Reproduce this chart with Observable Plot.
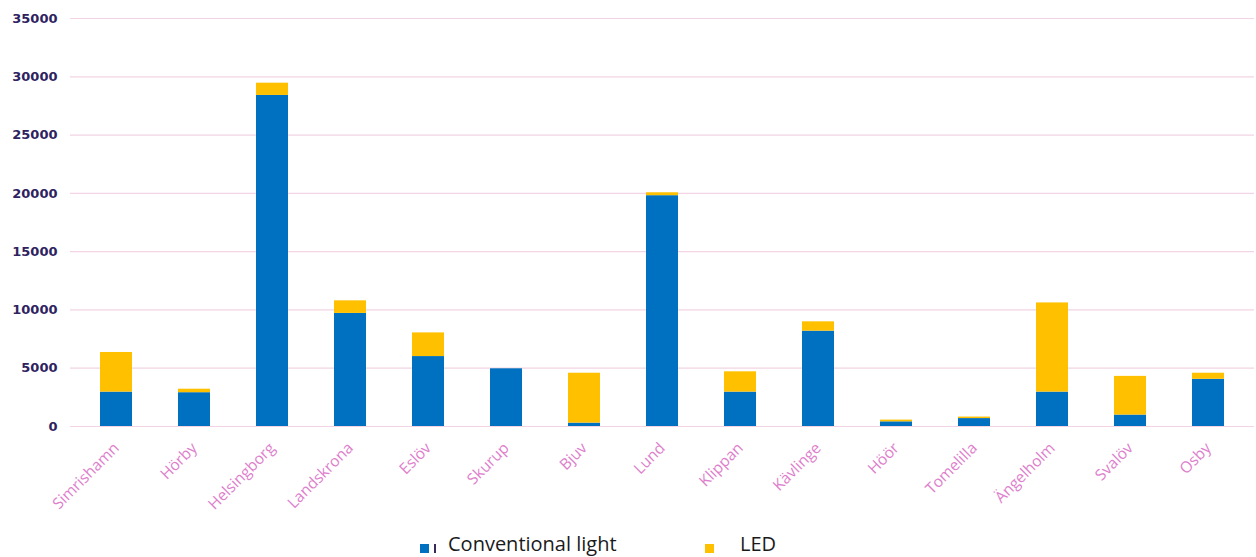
<!DOCTYPE html>
<html>
<head>
<meta charset="utf-8">
<script src="https://cdn.jsdelivr.net/npm/d3@7"></script>
<script src="https://cdn.jsdelivr.net/npm/@observablehq/plot@0.6"></script>
<style>
  html, body { margin: 0; padding: 0; background: #fff; }
  #wrap { position: relative; width: 1256px; height: 557px; overflow: hidden; }
  #legend { position: absolute; left: 0; top: 528px; width: 1256px; height: 29px; font-family: "Open Sans", "Noto Sans", sans-serif; }
  .sw { position: absolute; width: 9px; height: 9px; top: 16px; }
  .lt { position: absolute; top: 4px; font-size: 20px; color: #1a1a1a; line-height: 24px; }
</style>
</head>
<body>
<div id="wrap">
  <div id="chart"></div>
  <div id="legend">
    <div class="sw" style="left:420px; background:#0070c0;"></div>
    <div class="sw" style="left:434px; width:2px; background:#3a2a5a;"></div>
    <div class="lt" style="left:448px;">Conventional light</div>
    <div class="sw" style="left:705px; background:#ffc000;"></div>
    <div class="lt" style="left:740px;">LED</div>
  </div>
</div>
<script>
const municipalities = ["Simrishamn","Hörby","Helsingborg","Landskrona","Eslöv","Skurup","Bjuv","Lund","Klippan","Kävlinge","Höör","Tomelilla","Ängelholm","Svalöv","Osby"];
const conventional = [2950, 2900, 28400, 9700, 6000, 4950, 290, 19800, 2950, 8180, 400, 680, 2950, 980, 4050];
const led = [3400, 300, 1050, 1080, 2030, 0, 4280, 250, 1740, 800, 150, 130, 7650, 3320, 520];
const seriesNames = ["Conventional light", "LED"];
const seriesColors = ["#0070c0", "#ffc000"];
const yTicks = [0, 5000, 10000, 15000, 20000, 25000, 30000, 35000];

const rows = [];
municipalities.forEach((m, i) => {
  rows.push({municipality: m, series: seriesNames[0], value: conventional[i]});
  rows.push({municipality: m, series: seriesNames[1], value: led[i]});
});

const chart = Plot.plot({
  width: 1256,
  height: 528,
  marginTop: 18,
  marginBottom: 102,
  marginLeft: 70,
  marginRight: 2,
  style: {fontFamily: "'Open Sans', 'Noto Sans', sans-serif", background: "#fff"},
  x: {domain: municipalities, paddingInner: 0.59, paddingOuter: 0.32, label: null},
  y: {domain: [0, 35000], label: null},
  color: {domain: seriesNames, range: seriesColors},
  marks: [
    Plot.ruleY(yTicks, {stroke: "#f2d4e4", strokeWidth: 1.2}),
    Plot.barY(rows, {x: "municipality", y: "value", fill: "series", order: seriesNames}),
    Plot.axisY({ticks: yTicks, tickSize: 0, tickPadding: 13, tickFormat: d => String(d), fontSize: 13, fill: "#2e2260", fontWeight: "bold", fontFamily: "Tahoma, 'DejaVu Sans', sans-serif", label: null}),
    Plot.axisX({tickSize: 0, tickPadding: 19, tickRotate: -45, fontSize: 15.5, fill: "#de80cc", label: null})
  ]
});
document.getElementById("chart").appendChild(chart);
</script>
</body>
</html>
